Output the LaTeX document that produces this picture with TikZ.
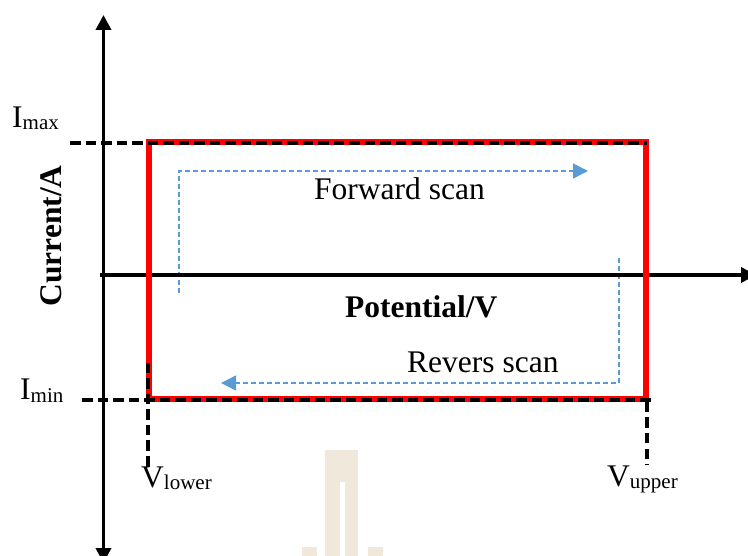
\documentclass[tikz,border=0pt]{standalone}
\usepackage{fontspec}
\setmainfont{Liberation Serif}
\usetikzlibrary{arrows.meta}
\definecolor{scanblue}{RGB}{91,155,213}
\definecolor{wmark}{RGB}{239,232,219}
\definecolor{boxred}{RGB}{255,0,0}
\newcommand{\lowsub}[1]{\raisebox{-2pt}{\fontsize{21}{21}\selectfont #1}}
\begin{document}
\begin{tikzpicture}[x=1pt,y=-1pt,
  lbl/.style={font=\fontsize{31.5}{36}\selectfont, inner sep=0pt},
  blbl/.style={font=\fontsize{31.5}{36}\selectfont\bfseries, inner sep=0pt},
  axisline/.style={line width=3.6pt, black},
  axtip/.tip={Triangle[width=15pt,length=15pt]},
  redbox/.style={line width=6.2pt, boxred},
  guide/.style={line width=3.4pt, black, dash pattern=on 10.5pt off 5pt},
  scanpath/.style={line width=1.4pt, scanblue, dash pattern=on 4.7pt off 3.3pt,
    -{Triangle[width=15pt,length=15pt,sep=0pt]}},
  wm/.style={fill=wmark, draw=none}]
\useasboundingbox (0,0) rectangle (748,556);
\clip (0,0) rectangle (748,556);

% watermark
\fill[wm] (325,450) rectangle (358,482);
\fill[wm] (325,482) rectangle (340,556);
\fill[wm] (345,482) rectangle (358,556);
\fill[wm] (302,547) rectangle (317,556);
\fill[wm] (368,547) rectangle (383,556);

% scan paths
\coordinate (f1) at (179,293);
\coordinate (f2) at (179,171);
\coordinate (f3) at (588,171);
\coordinate (r1) at (619,258);
\coordinate (r2) at (619,383);
\coordinate (r3) at (221,383);
\draw[scanpath] (f1) -- (f2) -- (f3);
\draw[scanpath] (r1) -- (r2) -- (r3);

% axes
\coordinate (yb) at (103.5,563);
\coordinate (yt) at (103.5,15);
\coordinate (xl) at (100,275);
\coordinate (xr) at (756,275);
\draw[axisline, -axtip] (xl) -- (xr);
\draw[axisline, axtip-axtip] (yb) -- (yt);

% red window
\coordinate (rTL) at (149,142);
\coordinate (rBR) at (646,399);
\draw[redbox] (rTL) rectangle (rBR);

% dashed guides
\coordinate (imaxS) at (70,143);
\coordinate (imaxE) at (647,143);
\coordinate (iminS) at (82,400);
\coordinate (iminE) at (652,400);
\coordinate (vlS) at (148,363);
\coordinate (vlE) at (148,470);
\coordinate (vuS) at (647,402);
\coordinate (vuE) at (647,465);
\draw[guide] (imaxS) -- (imaxE);
\draw[guide] (iminS) -- (iminE);
\draw[guide] (vlS) -- (vlE);
\draw[guide] (vuS) -- (vuE);

% labels
\node[lbl, anchor=base west] (imax) at (12,128) {I\lowsub{max}};
\node[lbl, anchor=base west] (imin) at (20,400) {I\lowsub{min}};
\node[lbl, anchor=base west] (vlow) at (141,487) {V\lowsub{lower}};
\node[lbl, anchor=base west] (vup) at (607,486) {V\lowsub{upper}};
\node[lbl, anchor=base west] (fwd) at (314,200) {Forward scan};
\node[lbl, anchor=base west] (rev) at (407,373) {Revers scan};
\node[blbl, anchor=base west] (pot) at (345,318) {Potential/V};
\node[blbl, rotate=90, anchor=base] (cur) at (61,236) {Current/A};
\end{tikzpicture}
\end{document}
